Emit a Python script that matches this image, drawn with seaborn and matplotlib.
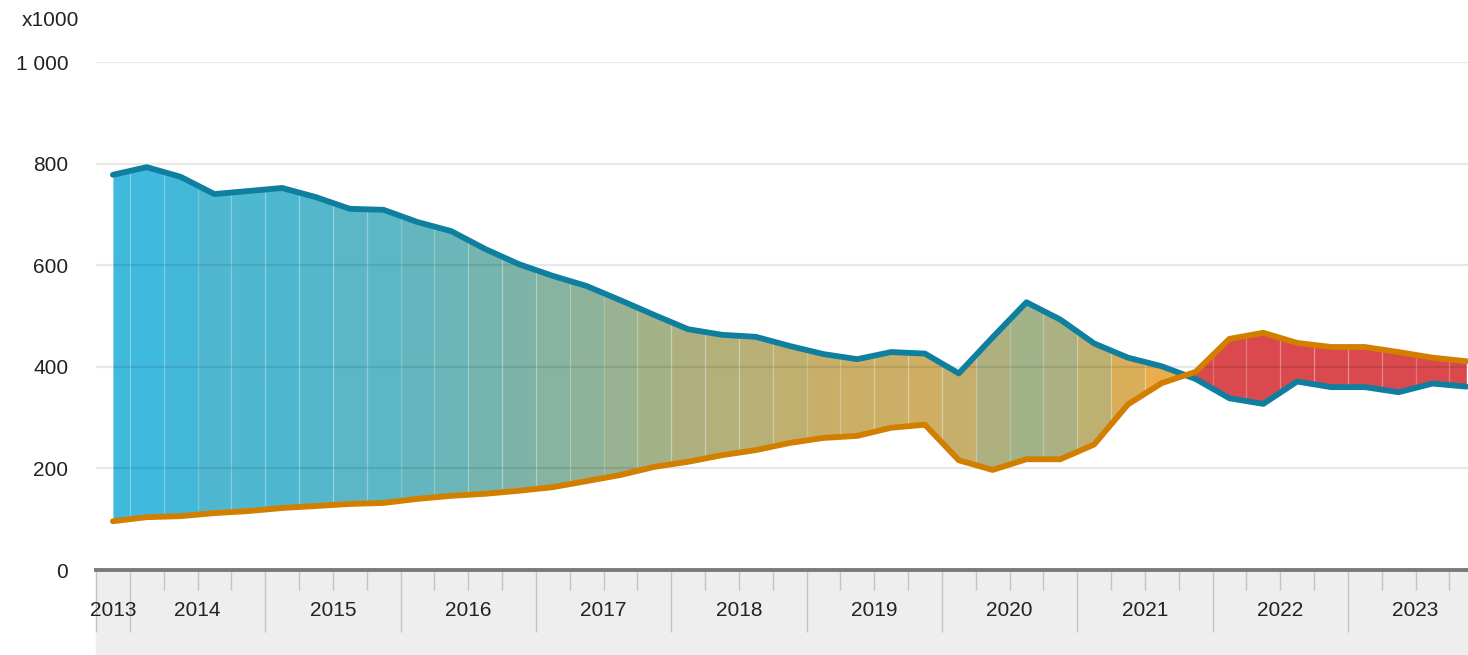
import numpy as np
import pandas as pd
import matplotlib
matplotlib.use("Agg")
import matplotlib.pyplot as plt
from matplotlib.patches import Rectangle
from matplotlib.colors import to_rgb
import seaborn as sns

# ---------------- data (x1000), quarterly 2013Q4 .. 2023Q4 ----------------
quarters = [f"{y}Q{q}" for y in range(2013, 2024) for q in range(1, 5)][3:]
blue_values = [778, 793, 774, 740, 746, 752, 734, 711, 709, 685,
               667, 632, 602, 579, 559, 531, 502, 474, 463, 459,
               441, 425, 415, 429, 426, 387, 458, 527, 493, 446,
               418, 401, 376, 338, 327, 371, 360, 360, 350, 367,
               361]
orange_values = [96, 104, 106, 112, 116, 122, 126, 130, 132, 140,
                 146, 150, 156, 163, 175, 187, 203, 213, 226, 236,
                 250, 260, 264, 280, 286, 216, 197, 218, 218, 247,
                 326, 368, 390, 455, 467, 447, 439, 439, 429, 418,
                 411]
year_labels = [str(y) for y in range(2013, 2024)]
y_ticks = [0, 200, 400, 600, 800, 1000]
y_tick_labels = ["0", "200", "400", "600", "800", "1 000"]

# ---------------- style ----------------
sns.set_theme(style="white")
plt.rcParams["font.family"] = ["Liberation Sans", "DejaVu Sans"]

BLUE_LINE = "#0e7f9e"
ORANGE_LINE = "#d27f00"
BLUE_FILL = np.array(to_rgb("#3cb9e0"))
ORANGE_FILL = np.array(to_rgb("#f2ac45"))
RED_FILL = "#d9494d"
TEXT = "#222222"
FS = 15

W, H = 1468, 655
fig = plt.figure(figsize=(W / 100, H / 100), dpi=100)
left, right, top, bottom = 96, 1468, 62, 570
ax = fig.add_axes([left / W, (H - bottom) / H, (right - left) / W, (bottom - top) / H])
ax.set_zorder(2)
ax.patch.set_alpha(0)

n = len(quarters)
idx = np.arange(n)
blue = np.array(blue_values, float)
orange = np.array(orange_values, float)

df = pd.DataFrame({
    "i": np.concatenate([idx, idx]),
    "value": np.concatenate([blue, orange]),
    "series": ["blue"] * n + ["orange"] * n,
})

# gray band under the axis
fig.patches.append(Rectangle((left / W, 0), 1 - left / W, (H - bottom) / H,
                             transform=fig.transFigure, color="#eeeeee", zorder=0))

# ---------------- gradient fill between the series ----------------
def seg_color(gap):
    if gap < 0:
        return RED_FILL
    t = np.clip(gap / 700.0, 0, 1)
    return tuple(t * BLUE_FILL + (1 - t) * ORANGE_FILL)

for k in range(n):
    a = max(k - 0.5, 0)
    b = min(k + 0.5, n - 1)
    xs = np.linspace(a, b, 60)
    bl = np.interp(xs, idx, blue)
    orv = np.interp(xs, idx, orange)
    gap = blue[k] - orange[k]
    c = seg_color(gap) if gap >= 0 else seg_color(1)
    ax.fill_between(xs, orv, bl, where=bl >= orv, interpolate=True,
                    color=c, lw=0, zorder=1)
    ax.fill_between(xs, orv, bl, where=bl < orv, interpolate=True,
                    color=RED_FILL, lw=0, zorder=1)

# white separators at quarter boundaries
bnds = np.arange(0.5, n - 1, 1.0)
b_hi = np.interp(bnds, idx, blue)
b_lo = np.interp(bnds, idx, orange)
ax.vlines(bnds, np.minimum(b_hi, b_lo), np.maximum(b_hi, b_lo),
          colors="white", alpha=0.2, lw=1, zorder=2)

# gridlines (above fill, below lines)
for yv in y_ticks[1:]:
    ax.axhline(yv, color="black", alpha=0.09, lw=1.6, zorder=3)

# ---------------- lines ----------------
sns.lineplot(data=df, x="i", y="value", hue="series",
             palette={"blue": BLUE_LINE, "orange": ORANGE_LINE},
             hue_order=["blue", "orange"], lw=4.2, legend=False, ax=ax,
             zorder=4, solid_capstyle="round", solid_joinstyle="round")

# ---------------- axes ----------------
ax.set_xlim(-0.5, 40.05)
ax.set_ylim(0, 1000)
for s in ["top", "right", "left"]:
    ax.spines[s].set_visible(False)
ax.spines["bottom"].set_color("#7a7a7a")
ax.spines["bottom"].set_linewidth(2.8)
ax.spines["bottom"].set_zorder(5)
ax.set_xlabel("")
ax.set_ylabel("")

ax.set_yticks(y_ticks)
ax.set_yticklabels(y_tick_labels)
ax.tick_params(axis="y", length=0, pad=20, labelsize=FS, labelcolor=TEXT)

year_bounds = [-0.5] + [0.5 + 4 * j for j in range(len(year_labels) - 1)]
minor = [b for b in np.arange(-0.5, 40.05, 1.0) if b not in year_bounds]
ax.set_xticks(year_bounds)
ax.set_xticks(minor, minor=True)
ax.set_xticklabels([])
ax.tick_params(axis="x", which="major", direction="out", length=44.5, width=1,
               color="#c4c4c4", bottom=True)
ax.tick_params(axis="x", which="minor", direction="out", length=14.4, width=1,
               color="#c4c4c4", bottom=True)

xt = ax.get_xaxis_transform()
label_y = -(611 - bottom) / (bottom - top)
for j, lab in enumerate(year_labels):
    xc = 0 if j == 0 else 2.5 + 4 * (j - 1)
    ax.text(xc, label_y, lab, transform=xt, ha="center", va="center",
            fontsize=FS, color=TEXT, clip_on=False)

fig.text(22 / W, 1 - 20 / H, "x1000", ha="left", va="center", fontsize=FS, color=TEXT)

fig.savefig("out.png", dpi=100)
